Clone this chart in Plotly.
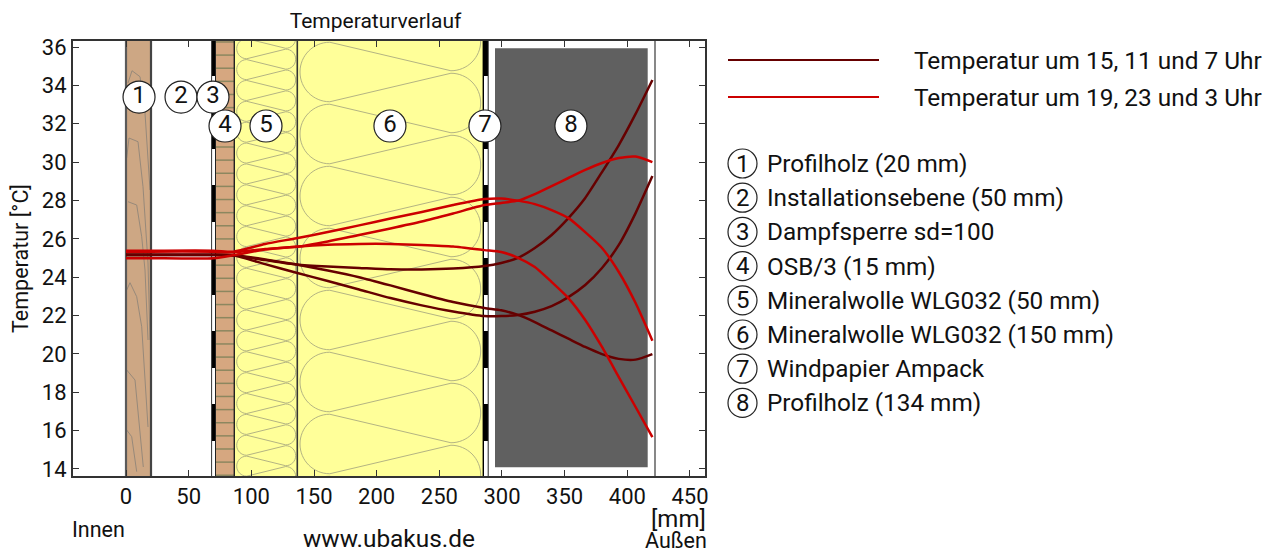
import plotly.graph_objects as go

# ---------- data ----------
depth_mm = [0, 20, 70, 86, 111, 136, 161, 186, 211, 236, 261, 286, 299.4, 312.8, 326.2, 339.6,
            353, 366.4, 379.8, 393.2, 406.6, 420]
temp_dark_a = [25.15, 25.15, 25.15, 25.13, 24.89, 24.66, 24.55, 24.48, 24.41, 24.40, 24.45, 24.58,
               24.74, 25.01, 25.52, 26.20, 27.08, 28.13, 29.48, 30.89, 32.51, 34.28]
temp_dark_b = [25.18, 25.18, 25.18, 25.15, 24.92, 24.66, 24.35, 24.00, 23.57, 23.12, 22.70, 22.39,
               22.27, 22.03, 21.66, 21.22, 20.79, 20.36, 19.99, 19.74, 19.70, 19.99]
temp_dark_c = [25.15, 25.15, 25.15, 25.13, 24.68, 24.23, 23.80, 23.36, 22.91, 22.53, 22.21, 21.97,
               21.97, 22.03, 22.20, 22.49, 22.96, 23.59, 24.48, 25.68, 27.34, 29.27]
temp_red_a = [25.38, 25.38, 25.38, 25.33, 25.73, 26.03, 26.35, 26.70, 27.06, 27.40, 27.76, 28.07,
              28.10, 27.99, 27.81, 27.50, 27.08, 26.35, 25.52, 24.27, 22.65, 20.69]
temp_red_b = [25.33, 25.33, 25.33, 25.30, 25.47, 25.58, 25.86, 26.20, 26.54, 26.90, 27.32, 27.76,
              27.87, 27.99, 28.33, 28.75, 29.17, 29.59, 29.95, 30.21, 30.29, 30.00]
temp_red_c = [24.99, 24.99, 24.99, 25.15, 25.44, 25.59, 25.69, 25.73, 25.73, 25.68, 25.60, 25.41,
              25.31, 25.01, 24.53, 23.75, 22.91, 21.77, 20.36, 18.79, 17.23, 15.66]

x_ticks = [0, 50, 100, 150, 200, 250, 300, 350, 400, 450]
y_ticks = [14, 16, 18, 20, 22, 24, 26, 28, 30, 32, 34, 36]

label_ids = ["1", "2", "3", "4", "5", "6", "7", "8"]
label_x = [10.4, 43.9, 69.4, 79, 111.7, 210.6, 286.4, 355]
label_y = [33.39, 33.39, 33.39, 31.88, 31.88, 31.88, 31.88, 31.88]
layer_names = ["Profilholz (20 mm)", "Installationsebene (50 mm)", "Dampfsperre sd=100", "OSB/3 (15 mm)",
               "Mineralwolle WLG032 (50 mm)", "Mineralwolle WLG032 (150 mm)", "Windpapier Ampack",
               "Profilholz (134 mm)"]
series_names = ["Temperatur um 15, 11 und 7 Uhr", "Temperatur um 19, 23 und 3 Uhr"]

DARK = "#660000"
RED = "#cc0000"
TXT = "#111111"
FONT = "Roboto"
PAGE = 8  # the page body has an 8px margin

# ---------- pixel helpers for the decorative wall drawing (page pixels) ----------
L, R, T, B = 73, 705, 41, 476
def mx(px): return (px - 126) / 1.2533
def ty(py): return 36 - (py - 47) / 19.18
def xp(px): return (px - L) / (R - L)
def yp(py): return (B - py) / (B - T)

shapes = []
def rect(x0, x1, y0, y1, fill):
    shapes.append(dict(type="rect", xref="x", yref="y", x0=mx(x0), x1=mx(x1), y0=ty(y0), y1=ty(y1),
                       fillcolor=fill, line=dict(color=fill, width=0), layer="below"))
def vline(px, color, lw):
    shapes.append(dict(type="line", xref="x", yref="y", x0=mx(px), x1=mx(px), y0=ty(30), y1=ty(490),
                       line=dict(color=color, width=lw), layer="below"))
def poly(points, color, lw=1):
    d = "M" + " L".join(f"{mx(a):.3f},{ty(b):.3f}" for a, b in points)
    shapes.append(dict(type="path", xref="x", yref="y", path=d, line=dict(color=color, width=lw), layer="below"))

def wave(x_left, x_right, first_center, period, color):
    r = period * 0.48
    k = 0.5523 * r
    c = first_center
    while c > T - 2 * period:
        c -= period
    pts = f"M{mx(x_left + r):.3f},{ty(c - r):.3f}"
    def C(a, b, d, e, f, g):
        return f" C{mx(a):.3f},{ty(b):.3f} {mx(d):.3f},{ty(e):.3f} {mx(f):.3f},{ty(g):.3f}"
    while c < B + 2 * period:
        pts += C(x_left + r - k, c - r, x_left, c - k, x_left, c)
        pts += C(x_left, c + k, x_left + r - k, c + r, x_left + r, c + r)
        c2 = c + period / 2
        pts += f" L{mx(x_right - r):.3f},{ty(c2 - r):.3f}"
        pts += C(x_right - r + k, c2 - r, x_right, c2 - k, x_right, c2)
        pts += C(x_right, c2 + k, x_right - r + k, c2 + r, x_right - r, c2 + r)
        c += period
        pts += f" L{mx(x_left + r):.3f},{ty(c - r):.3f}"
    shapes.append(dict(type="path", xref="x", yref="y", path=pts,
                       line=dict(color=color, width=1), layer="below"))

# wood board
rect(126, 151, 30, 490, "#cda784")
for g in ([(128, 83), (132, 70.7), (140, 76.7), (145, 113), (150, 190)],
          [(126.7, 158), (129, 138), (138, 141.7), (143, 186.7), (148, 263), (150, 340)],
          [(128, 201.7), (136.7, 205), (141.7, 236.7), (145, 270), (148, 340)],
          [(126.7, 290), (130, 282.7), (136.7, 296.7), (141.7, 326.7), (148, 427)],
          [(126.7, 370), (135, 380), (143.3, 467)],
          [(126.7, 430), (131.7, 436.7), (136.7, 471.7)]):
    poly(g, "#97897a", 1)
vline(126, "#5a5a5a", 2.2)
vline(151, "#444444", 2.2)

# OSB
rect(215.7, 234.3, 30, 490, "#d6a780")
yy = 278.3 - 13.13 * 19
while yy < 480:
    shapes.append(dict(type="line", xref="x", yref="y", x0=mx(215.7), x1=mx(234.3), y0=ty(yy), y1=ty(yy),
                       line=dict(color="#8c875f", width=1.5), layer="below"))
    yy += 13.13

# mineral wool
rect(234.3, 297.3, 30, 490, "#ffff99")
rect(297.3, 483, 30, 490, "#ffff99")
wave(236.7, 295.7, 278.3, 20.87, "#b4b483")
wave(300, 480.7, 258, 62, "#b4b483")
vline(234.3, "#222222", 1.4)
vline(297.3, "#333333", 1.6)

# membranes
for x0, x1 in ((212, 215.7), (483, 488)):
    y0 = 39
    while y0 < 480:
        rect(x0, x1, y0, y0 + 37, "#000000")
        y0 += 73
vline(211.6, "#333333", 1)
vline(215.5, "#222222", 1)
vline(483.3, "#000000", 1.4)
vline(488.2, "#222222", 1)

# outer board
rect(495, 647.7, 48.3, 467.3, "#606060")
vline(655, "#555555", 1.4)

# ---------- figure ----------
fig = go.Figure()
for name, ys, color in ((series_names[0], temp_dark_a, DARK), (series_names[0], temp_dark_b, DARK),
                        (series_names[0], temp_dark_c, DARK), (series_names[1], temp_red_a, RED),
                        (series_names[1], temp_red_b, RED), (series_names[1], temp_red_c, RED)):
    fig.add_trace(go.Scatter(x=depth_mm, y=ys, mode="lines", name=name, showlegend=False,
                             line=dict(color=color, width=2.5, shape="spline", smoothing=0.6)))
fig.add_trace(go.Scatter(x=label_x, y=label_y, mode="markers+text", text=label_ids, showlegend=False,
                         textposition="middle center", textfont=dict(family=FONT, size=24, color="#111111"),
                         marker=dict(size=32, color="white", line=dict(color="#222222", width=1.2))))

ann = []
def text(px, py, s, size, anchor="left"):
    ann.append(dict(xref="paper", yref="paper", x=xp(px), y=yp(py), text=s, showarrow=False, xanchor=anchor,
                    yanchor="middle", font=dict(family=FONT, size=size, color=TXT)))

text(70, 529, "Innen", 21.5)
text(389, 538, "www.ubakus.de", 24.4, "center")
text(708, 519, "[mm]", 24, "right")
text(709, 540.5, "Außen", 21.5, "right")

for py, name, color in ((60, series_names[0], DARK), (97, series_names[1], RED)):
    shapes.append(dict(type="line", xref="paper", yref="paper", x0=xp(728), x1=xp(879), y0=yp(py), y1=yp(py),
                       line=dict(color=color, width=2)))
    text(912, py, name, 24.4)

for i, (num, name) in enumerate(zip(label_ids, layer_names)):
    py = 163.5 + i * 34.2
    shapes.append(dict(type="circle", xref="paper", yref="paper", x0=xp(728), x1=xp(757), y0=yp(py - 14.5), y1=yp(py + 14.5),
                       fillcolor="white", line=dict(color="#222222", width=1.2)))
    text(742.5, py, num, 24, "center")
    text(765, py, name, 24.3)

fig.update_layout(
    width=1273 - PAGE, height=551 - PAGE,
    margin=dict(l=L - PAGE, r=1273 - R, t=T - PAGE, b=551 - B, autoexpand=False),
    paper_bgcolor="white", plot_bgcolor="white", showlegend=False,
    font=dict(family=FONT, size=22, color=TXT),
    title=dict(text="Temperaturverlauf", x=(375.5 - PAGE) / (1273 - PAGE), y=1 - (21 - PAGE) / (551 - PAGE),
               xanchor="center", yanchor="middle", font=dict(family=FONT, size=21, color=TXT)),
    shapes=shapes, annotations=ann,
    xaxis=dict(range=[mx(L), mx(R)], tickvals=x_ticks, ticks="inside", ticklen=6, tickcolor="#333333",
               showgrid=False, zeroline=False, showline=True, linecolor="#333333", linewidth=2, mirror="ticks",
               tickfont=dict(family=FONT, size=22, color=TXT)),
    yaxis=dict(range=[ty(B), ty(T)], tickvals=y_ticks, ticks="inside", ticklen=6, tickcolor="#333333",
               showgrid=False, zeroline=False, showline=True, linecolor="#333333", linewidth=2, mirror="ticks",
               tickfont=dict(family=FONT, size=22, color=TXT),
               title=dict(text="Temperatur [°C]", standoff=8, font=dict(family=FONT, size=21.5, color=TXT))),
)
fig.write_html("out.html")
